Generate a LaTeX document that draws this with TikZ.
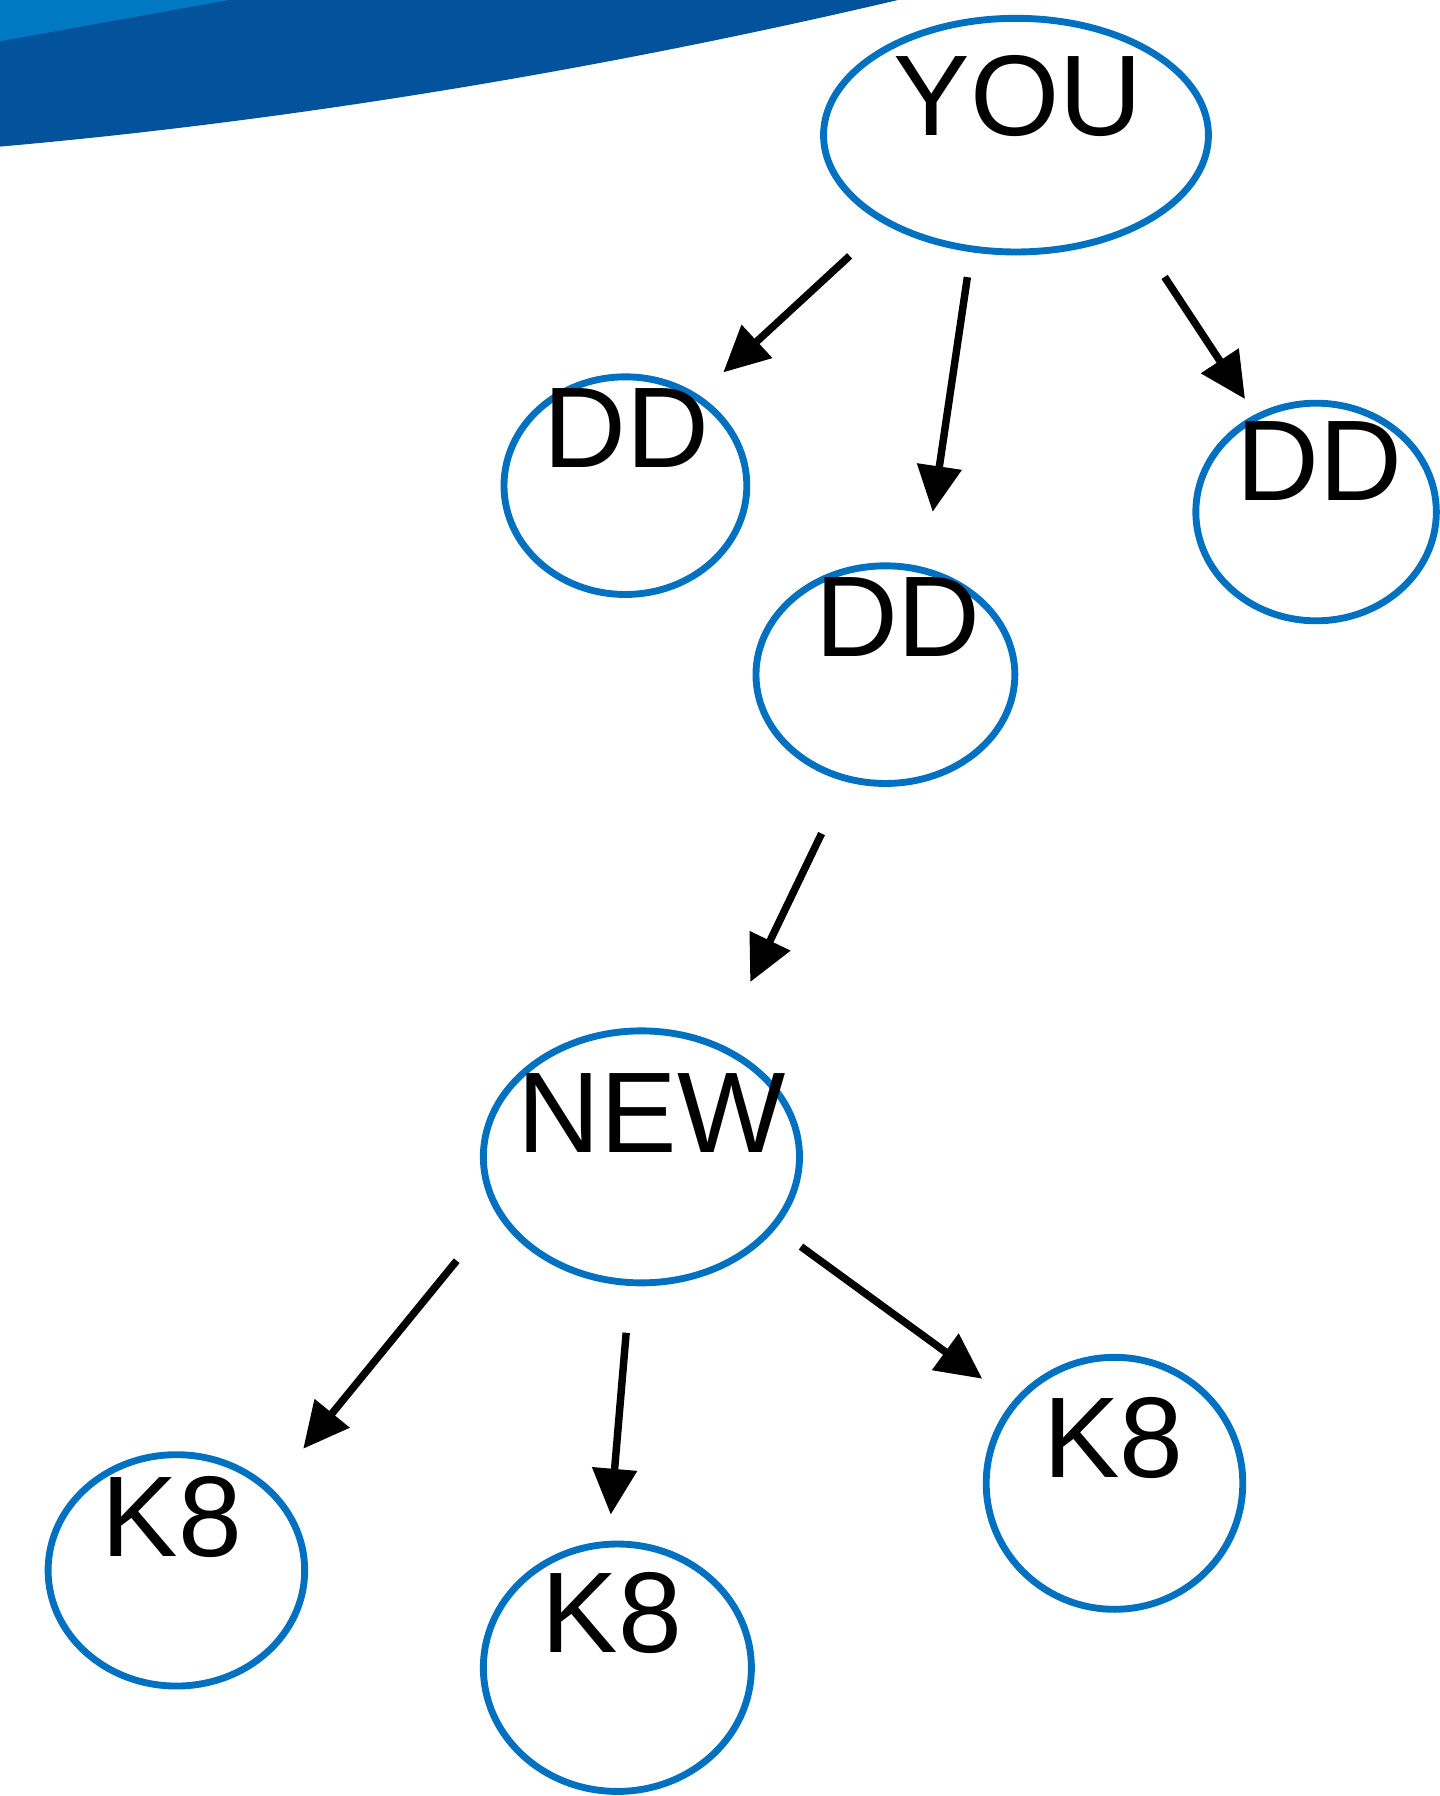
\documentclass[tikz,border=0pt]{standalone}
\usepackage{fontspec}
\setmainfont{Liberation Sans}
\usetikzlibrary{arrows.meta,shapes.geometric}
\definecolor{bannerdark}{HTML}{02529C}
\definecolor{bannerlight}{HTML}{0079C2}
\definecolor{ringblue}{HTML}{0070C0}
\tikzset{
	bubble/.style={ellipse, draw=ringblue, line width=0.06cm, inner sep=0pt},
	word/.style={anchor=base, inner sep=0pt, font=\fontsize{28.5}{34}\selectfont},
	link/.style={line width=0.065cm, -{Triangle[length=0.4cm, width=0.38cm]}}
}

\begin{document}
\begin{tikzpicture}
			%%%%% START %%%%%
			
			\useasboundingbox (0, 0) rectangle (12.57, -15.68);
			
			\fill[bannerdark] (0, 0) -- (7.84, 0) .. controls (5.2, -0.62) and (2.5, -1.06) .. (0, -1.28) -- cycle;
			\fill[bannerlight] (0, 0) -- (2.0, 0) -- (0, -0.36) -- cycle;
			
			\node[bubble, minimum width=3.36cm, minimum height=2.04cm] (you) at (8.87, -1.18) {};
			\node[bubble, minimum width=2.12cm, minimum height=1.90cm] (dd1) at (5.46, -4.24) {};
			\node[bubble, minimum width=2.26cm, minimum height=1.90cm] (dd2) at (7.73, -5.89) {};
			\node[bubble, minimum width=2.10cm, minimum height=1.90cm] (dd3) at (11.49, -4.47) {};
			\node[bubble, minimum width=2.76cm, minimum height=2.20cm] (new) at (5.60, -10.10) {};
			\node[bubble, minimum width=2.24cm, minimum height=2.02cm] (k8a) at (1.54, -13.71) {};
			\node[bubble, minimum width=2.34cm, minimum height=2.16cm] (k8b) at (5.39, -14.56) {};
			\node[bubble, minimum width=2.24cm, minimum height=2.20cm] (k8c) at (9.73, -12.95) {};
			
			\node[word] (youlabel) at (8.89, -1.18) {YOU};
			\node[word] (dd1label) at (5.47, -4.08) {DD};
			\node[word] (dd2label) at (7.84, -5.73) {DD};
			\node[word] (dd3label) at (11.52, -4.37) {DD};
			\node[word] (newlabel) at (5.69, -10.06) {NEW};
			\node[word] (k8alabel) at (1.50, -13.59) {K8};
			\node[word] (k8blabel) at (5.34, -14.43) {K8};
			\node[word] (k8clabel) at (9.72, -12.90) {K8};
			
			\draw[link, shorten <=0.41cm, shorten >=0.29cm] (you.214) -- (dd1.51);
			\draw[link, shorten <=0.22cm, shorten >=0.49cm] (you.249) -- (dd2.70);
			\draw[link, shorten <=0.48cm, shorten >=0.16cm] (you.321) -- (dd3.122);
			
			\draw[link, shorten <=0.50cm, shorten >=0.60cm] (dd2.250) -- (new.55);
			
			\draw[link, shorten <=0.54cm, shorten >=0.44cm] (new.201) -- (k8a.41);
			\draw[link, shorten <=0.41cm, shorten >=0.23cm] (new.265) -- (k8b.94);
			\draw[link, shorten <=0.27cm, shorten >=0.33cm] (new.332) -- (k8c.141);
			
			%%%%% END %%%%%
		\end{tikzpicture}
\end{document}
